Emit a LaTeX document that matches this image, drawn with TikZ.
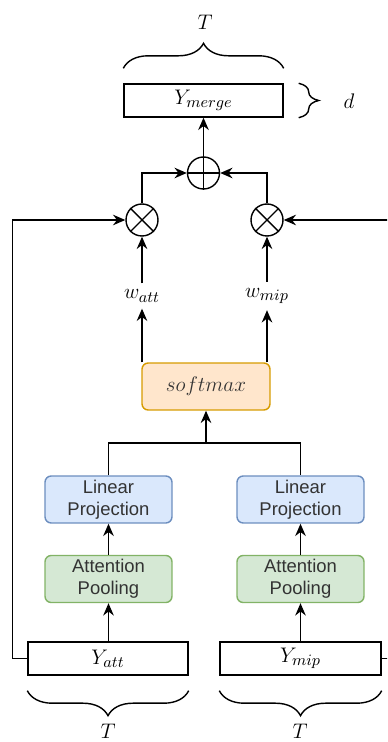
\documentclass[tikz,border=0pt]{standalone}
\usepackage{fontspec}
\setsansfont{Liberation Sans}
\usepackage{tikz}
\usetikzlibrary{positioning, arrows.meta, decorations.pathreplacing}
\usepackage{amsmath,amssymb}

\definecolor{softfill}{HTML}{FFE6CC}
\definecolor{softdraw}{HTML}{D79B00}
\definecolor{projfill}{HTML}{DAE8FC}
\definecolor{projdraw}{HTML}{6C8EBF}
\definecolor{poolfill}{HTML}{D5E8D4}
\definecolor{pooldraw}{HTML}{82B366}
\definecolor{txtgray}{HTML}{333333}

\tikzset{
  arr/.style={-{Stealth[length=7pt,width=6pt]}},
  mathlab/.style={font=\fontsize{13}{15}\selectfont},
  seqbox/.style={draw=black, minimum width=3.2cm, minimum height=0.66cm, inner sep=0pt, mathlab},
  opcirc/.style={draw=black, circle, minimum size=0.64cm, inner sep=0pt},
  blockbox/.style={rounded corners=3.5pt, minimum width=2.54cm, minimum height=0.94cm, inner sep=1pt,
    align=center, text=txtgray, font=\sffamily\fontsize{10.5}{12.5}\selectfont},
  bracedeco/.style={decorate, decoration={brace, amplitude=#1}},
}

\begin{document}
\begin{tikzpicture}[x=0.02cm, y=-0.02cm, line width=0.8pt]
\useasboundingbox (0,0) rectangle (387,742);
\clip (0,0) rectangle (387,742);

% output
\node [seqbox, minimum width=3.18cm] (ymerge) at (203.5,100.5) {$Y_{merge}$};
\draw [bracedeco=0.5cm] ([yshift=0.3cm]ymerge.north west) -- ([yshift=0.3cm]ymerge.north east);
\node [mathlab] (ttop) at (205,22) {$T$};
\draw [bracedeco=0.4cm] ([xshift=0.3cm]ymerge.north east) -- ([xshift=0.3cm]ymerge.south east);
\node [mathlab] (dlab) at (349,101) {$d$};

% fusion
\node [opcirc] (plus) at (203.5,173) {};
\draw (plus.north) -- (plus.south) (plus.west) -- (plus.east);
\node [opcirc] (mulatt) at (142,220) {};
\draw (mulatt.north west) -- (mulatt.south east) (mulatt.north east) -- (mulatt.south west);
\node [opcirc] (mulmip) at (267,220) {};
\draw (mulmip.north west) -- (mulmip.south east) (mulmip.north east) -- (mulmip.south west);

\node [mathlab] (watt) at (142,296) {$w_{att}$};
\node [mathlab] (wmip) at (267,296) {$w_{mip}$};

\node [blockbox, fill=softfill, draw=softdraw, minimum width=2.56cm, mathlab] (softmax) at (206,386.5) {$softmax$};
\coordinate (join) at (206,443);

% branches
\node [blockbox, fill=projfill, draw=projdraw] (lpatt) at (108.5,499.5) {Linear\\Projection};
\node [blockbox, fill=projfill, draw=projdraw] (lpmip) at (300.5,499.5) {Linear\\Projection};
\node [blockbox, fill=poolfill, draw=pooldraw] (apatt) at (108.5,579) {Attention\\Pooling};
\node [blockbox, fill=poolfill, draw=pooldraw] (apmip) at (300.5,579) {Attention\\Pooling};

\node [seqbox] (yatt) at (108,658.5) {$Y_{att}$};
\node [seqbox, minimum width=3.22cm] (ymip) at (300.5,658.5) {$Y_{mip}$};
\draw [bracedeco=0.5cm] ([yshift=-0.3cm]yatt.south east) -- ([yshift=-0.3cm]yatt.south west);
\draw [bracedeco=0.5cm] ([yshift=-0.3cm]ymip.south east) -- ([yshift=-0.3cm]ymip.south west);
\node [mathlab] (tatt) at (108,731) {$T$};
\node [mathlab] (tmip) at (300,731) {$T$};

% connectors
\draw [arr] (yatt.north -| apatt) -- (apatt);
\draw [arr] (ymip.north -| apmip) -- (apmip);
\draw [arr] (apatt) -- (lpatt);
\draw [arr] (apmip) -- (lpmip);
\draw (lpatt.north) |- (join) -| (lpmip.north);
\draw [arr] (join) -- (softmax);
\draw [arr] (softmax.north -| watt) -- (watt);
\draw [arr] (softmax.north -| wmip) -- (wmip);
\draw [arr] (watt) -- (mulatt);
\draw [arr] (wmip) -- (mulmip);
\draw [arr] (yatt.west) -- ++(-15,0) |- (mulatt.west);
\draw [arr] (ymip.east) -- ++(12,0) |- (mulmip.east);
\draw [arr] (mulatt.north) |- (plus.west);
\draw [arr] (mulmip.north) |- (plus.east);
\draw [arr] (plus) -- (ymerge);
\end{tikzpicture}
\end{document}
